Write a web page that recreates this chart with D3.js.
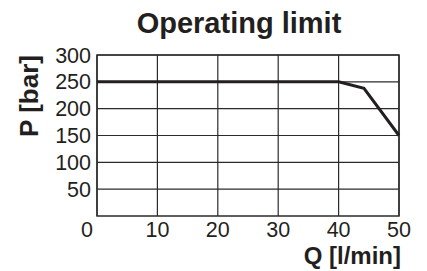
<!DOCTYPE html>
<html lang="en">
  <head>
    <meta charset="UTF-8" />
    <title>Operating limit</title>
    <script src="https://d3js.org/d3.v7.min.js"></script>
    <style>
      body { margin: 0; background: #fff; }
      text { font-family: "Liberation Sans", Arial, sans-serif; fill: #231f20; }
    </style>
  </head>
  <body>
    <svg width="427" height="271"></svg>
    <script>
      // data
      const flowQ = [0, 40, 44.2, 50];
      const pressureP = [250, 250, 238, 150];
      const xTicks = [0, 10, 20, 30, 40, 50];
      const yTicks = [50, 100, 150, 200, 250, 300];

      const svg = d3.select("svg");
      const margin = { left: 97, right: 28, top: 55, bottom: 55 };
      const w = 427 - margin.left - margin.right;
      const h = 271 - margin.top - margin.bottom;

      const x = d3.scaleLinear().domain([0, 50]).range([0, w]);
      const y = d3.scaleLinear().domain([0, 300]).range([h, 0]);

      const g = svg.append("g")
        .attr("transform", `translate(${margin.left},${margin.top})`);

      //grid
      g.append("g")
        .selectAll("line")
        .data(yTicks)
        .join("line")
        .attr("x1", 0).attr("x2", w)
        .attr("y1", d => y(d)).attr("y2", d => y(d))
        .attr("stroke", "#2b2b2b").attr("stroke-width", 1.2);
      g.append("g")
        .selectAll("line")
        .data(xTicks)
        .join("line")
        .attr("x1", d => x(d)).attr("x2", d => x(d))
        .attr("y1", 0).attr("y2", h)
        .attr("stroke", "#2b2b2b").attr("stroke-width", 1.2);
      g.append("rect")
        .attr("width", w).attr("height", h)
        .attr("fill", "none").attr("stroke", "#2b2b2b").attr("stroke-width", 1.5);

      //tick labels
      g.append("g")
        .selectAll("text")
        .data(yTicks)
        .join("text")
        .attr("x", -6)
        .attr("y", d => y(d) + 7.5)
        .attr("text-anchor", "end")
        .attr("font-size", 21.5)
        .text(d => d);
      g.append("g")
        .selectAll("text")
        .data(xTicks)
        .join("text")
        .attr("x", d => x(d) - (d === 0 ? 10 : 0))
        .attr("y", h + 21)
        .attr("text-anchor", "middle")
        .attr("font-size", 21.5)
        .text(d => d);

      //curve
      const line = d3.line().x(d => x(d[0])).y(d => y(d[1]));
      g.append("path")
        .datum(d3.zip(flowQ, pressureP))
        .attr("d", line)
        .attr("fill", "none")
        .attr("stroke", "#231f20")
        .attr("stroke-width", 3)
        .attr("stroke-linejoin", "miter");

      //titles
      svg.append("text")
        .attr("x", 239).attr("y", 33)
        .attr("text-anchor", "middle")
        .attr("font-size", 29).attr("font-weight", "bold")
        .text("Operating limit");
      svg.append("text")
        .attr("x", 401).attr("y", 264)
        .attr("text-anchor", "end")
        .attr("font-size", 24).attr("font-weight", "bold")
        .text("Q [l/min]");
      svg.append("text")
        .attr("transform", "translate(38,96) rotate(-90)")
        .attr("text-anchor", "middle")
        .attr("font-size", 26).attr("font-weight", "bold")
        .text("P [bar]");
    </script>
  </body>
</html>
